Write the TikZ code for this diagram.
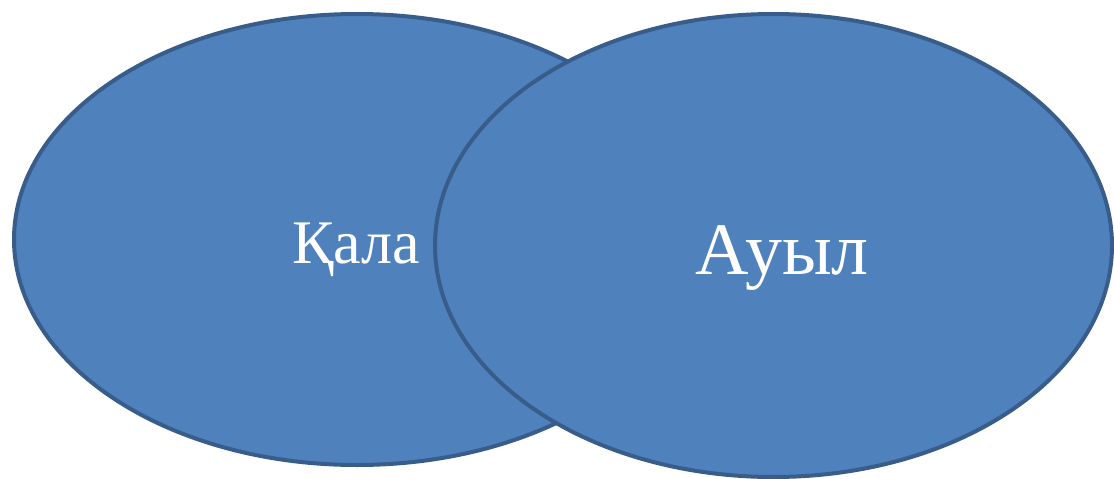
\documentclass[tikz,border=0pt]{standalone}
\usepackage{fontspec}
\setmainfont{Liberation Serif}
\usepackage{xcolor}
\usepackage{tikz}
\usetikzlibrary{shapes.geometric, positioning, calc}

\definecolor{zonefill}{HTML}{4F81BD}
\definecolor{zoneline}{HTML}{385D8A}

\begin{document}
\begin{tikzpicture}[x=1pt, y=-1pt, zone/.style={
                ellipse,
                draw=zoneline,
                fill=zonefill,
                line width=4pt,
                inner sep=0pt,
                outer sep=0pt,
        }, zonetext/.style={
                text=white,
                anchor=base,
                inner sep=0pt,
        }]
            \useasboundingbox (0, 0) rectangle (1114, 479);
            \node[zone, minimum width=686pt, minimum height=451pt] (kala) at (357, 239.5) {};
            \node[zone, minimum width=677pt, minimum height=463pt] (auyl) at (773.5, 245.5) {};
            \node[zonetext, font=\fontsize{62}{70}\selectfont] (kalatext) at ($(kala.center)+(-1, 23.5)$) {Қала};
            \node[zonetext, font=\fontsize{74}{84}\selectfont] (auyltext) at ($(auyl.center)+(8.5, 28.5)$) {Ауыл};
        \end{tikzpicture}
\end{document}
